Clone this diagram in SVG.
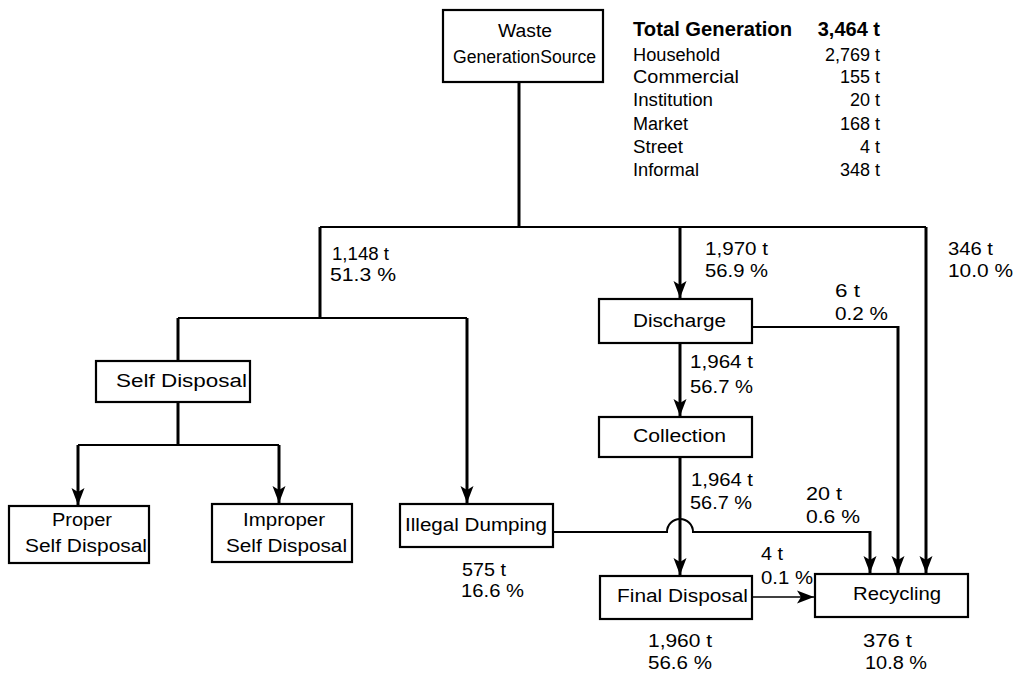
<svg xmlns="http://www.w3.org/2000/svg" width="1016" height="675" viewBox="0 0 1016 675">
  <style>
    text { font-family: "Liberation Sans", Arial, sans-serif; font-size: 18px; fill: #000; }
    .box { fill: #fff; stroke: #000; stroke-width: 2.2; }
    .v { fill: none; stroke: #000; stroke-width: 3; }
    .h { fill: none; stroke: #000; stroke-width: 2; }
    .thin { fill: none; stroke: #000; stroke-width: 1.6; }
    .bold { font-weight: bold; font-size: 20px; }
  </style>
  <defs>
    <marker id="arrow" markerUnits="userSpaceOnUse" markerWidth="18" markerHeight="14" viewBox="0 -7 18 14" refX="17" refY="0" orient="auto">
      <path d="M0,-6.5 L17,0 L0,6.5 L4,0 Z" fill="#000"/>
    </marker>
  </defs>
  <rect width="1016" height="675" fill="#fff"/>

  <!-- flow lines -->
  <g id="connectors">
    <path class="v" d="M519,82 V227"/>
    <path class="h" d="M320,227 H926"/>
    <path class="v" d="M320,227 V318"/>
    <path class="h" d="M178,318 H467"/>
    <path class="v" d="M178,318 V361"/>
    <path class="v" d="M467,318 V503" marker-end="url(#arrow)"/>
    <path class="v" d="M178,402 V445"/>
    <path class="h" d="M78,445 H279"/>
    <path class="v" d="M78,445 V505" marker-end="url(#arrow)"/>
    <path class="v" d="M279,445 V503" marker-end="url(#arrow)"/>
    <path class="v" d="M680,227 V298" marker-end="url(#arrow)"/>
    <path class="v" d="M926,227 V573" marker-end="url(#arrow)"/>
    <path class="h" d="M752,327 H898"/>
    <path class="v" d="M898,326 V573" marker-end="url(#arrow)"/>
    <path class="v" d="M680,343 V416" marker-end="url(#arrow)"/>
    <path class="v" d="M680,457 V575" marker-end="url(#arrow)"/>
    <path class="h" d="M553,532 H667 A13,13 0 0 1 693,532 H870"/>
    <path class="v" d="M870,531 V573" marker-end="url(#arrow)"/>
    <path class="thin" d="M752,597 H814" marker-end="url(#arrow)"/>
  </g>

  <!-- flow quantities -->
  <g id="flow-labels">
    <text x="332" y="260" textLength="57" lengthAdjust="spacingAndGlyphs">1,148 t</text>
    <text x="330" y="281" textLength="66" lengthAdjust="spacingAndGlyphs">51.3 %</text>
    <text x="705" y="255" textLength="63" lengthAdjust="spacingAndGlyphs">1,970 t</text>
    <text x="705" y="277" textLength="63" lengthAdjust="spacingAndGlyphs">56.9 %</text>
    <text x="948" y="255" textLength="45" lengthAdjust="spacingAndGlyphs">346 t</text>
    <text x="948" y="277" textLength="65" lengthAdjust="spacingAndGlyphs">10.0 %</text>
    <text x="835" y="297" textLength="25" lengthAdjust="spacingAndGlyphs">6 t</text>
    <text x="835" y="320" textLength="53" lengthAdjust="spacingAndGlyphs">0.2 %</text>
    <text x="690" y="368" textLength="63" lengthAdjust="spacingAndGlyphs">1,964 t</text>
    <text x="690" y="393" textLength="63" lengthAdjust="spacingAndGlyphs">56.7 %</text>
    <text x="691" y="486" textLength="62" lengthAdjust="spacingAndGlyphs">1,964 t</text>
    <text x="690" y="509" textLength="62" lengthAdjust="spacingAndGlyphs">56.7 %</text>
    <text x="806" y="500" textLength="36" lengthAdjust="spacingAndGlyphs">20 t</text>
    <text x="806" y="523" textLength="54" lengthAdjust="spacingAndGlyphs">0.6 %</text>
    <text x="761" y="560" textLength="22" lengthAdjust="spacingAndGlyphs">4 t</text>
    <text x="761" y="584" textLength="52" lengthAdjust="spacingAndGlyphs">0.1 %</text>
    <text x="462" y="576" textLength="44" lengthAdjust="spacingAndGlyphs">575 t</text>
    <text x="461" y="597" textLength="63" lengthAdjust="spacingAndGlyphs">16.6 %</text>
    <text x="648" y="647" textLength="64" lengthAdjust="spacingAndGlyphs">1,960 t</text>
    <text x="648" y="669" textLength="64" lengthAdjust="spacingAndGlyphs">56.6 %</text>
    <text x="863" y="647" textLength="49" lengthAdjust="spacingAndGlyphs">376 t</text>
    <text x="865" y="669" textLength="62" lengthAdjust="spacingAndGlyphs">10.8 %</text>
  </g>

  <!-- generation totals -->
  <g id="generation-table">
    <text class="bold" x="633" y="36" textLength="159" lengthAdjust="spacingAndGlyphs">Total Generation</text>
    <text class="bold" x="880" y="36" text-anchor="end">3,464 t</text>
    <text x="633" y="61" textLength="87" lengthAdjust="spacingAndGlyphs">Household</text>
    <text x="880" y="61" text-anchor="end">2,769 t</text>
    <text x="633" y="83" textLength="106" lengthAdjust="spacingAndGlyphs">Commercial</text>
    <text x="880" y="83" text-anchor="end">155 t</text>
    <text x="633" y="106" textLength="80" lengthAdjust="spacingAndGlyphs">Institution</text>
    <text x="880" y="106" text-anchor="end">20 t</text>
    <text x="633" y="130" textLength="55" lengthAdjust="spacingAndGlyphs">Market</text>
    <text x="880" y="130" text-anchor="end">168 t</text>
    <text x="633" y="153" textLength="50" lengthAdjust="spacingAndGlyphs">Street</text>
    <text x="880" y="153" text-anchor="end">4 t</text>
    <text x="633" y="176" textLength="66" lengthAdjust="spacingAndGlyphs">Informal</text>
    <text x="880" y="176" text-anchor="end">348 t</text>
  </g>

  <g id="waste-generation-source">
    <rect class="box" x="443" y="10" width="160" height="72"/>
    <text x="498" y="37" textLength="54" lengthAdjust="spacingAndGlyphs">Waste</text>
    <text x="453" y="63" textLength="143" lengthAdjust="spacingAndGlyphs">GenerationSource</text>
  </g>
  <g id="self-disposal">
    <rect class="box" x="96" y="361" width="154" height="41"/>
    <text x="116" y="387" textLength="131" lengthAdjust="spacingAndGlyphs">Self Disposal</text>
  </g>
  <g id="proper-self-disposal">
    <rect class="box" x="9" y="506" width="140" height="57"/>
    <text x="52" y="526" textLength="60" lengthAdjust="spacingAndGlyphs">Proper</text>
    <text x="25" y="552" textLength="122" lengthAdjust="spacingAndGlyphs">Self Disposal</text>
  </g>
  <g id="improper-self-disposal">
    <rect class="box" x="212" y="504" width="140" height="58"/>
    <text x="243" y="526" textLength="82" lengthAdjust="spacingAndGlyphs">Improper</text>
    <text x="226" y="552" textLength="121" lengthAdjust="spacingAndGlyphs">Self Disposal</text>
  </g>
  <g id="illegal-dumping">
    <rect class="box" x="400" y="504" width="153" height="43"/>
    <text x="405" y="531" textLength="142" lengthAdjust="spacingAndGlyphs">Illegal Dumping</text>
  </g>
  <g id="discharge">
    <rect class="box" x="599" y="299" width="153" height="44"/>
    <text x="633" y="327" textLength="93" lengthAdjust="spacingAndGlyphs">Discharge</text>
  </g>
  <g id="collection">
    <rect class="box" x="599" y="417" width="153" height="40"/>
    <text x="633" y="442" textLength="93" lengthAdjust="spacingAndGlyphs">Collection</text>
  </g>
  <g id="final-disposal">
    <rect class="box" x="600" y="576" width="152" height="43"/>
    <text x="617" y="602" textLength="131" lengthAdjust="spacingAndGlyphs">Final Disposal</text>
  </g>
  <g id="recycling">
    <rect class="box" x="815" y="574" width="153" height="43"/>
    <text x="853" y="600" textLength="88" lengthAdjust="spacingAndGlyphs">Recycling</text>
  </g>
</svg>
